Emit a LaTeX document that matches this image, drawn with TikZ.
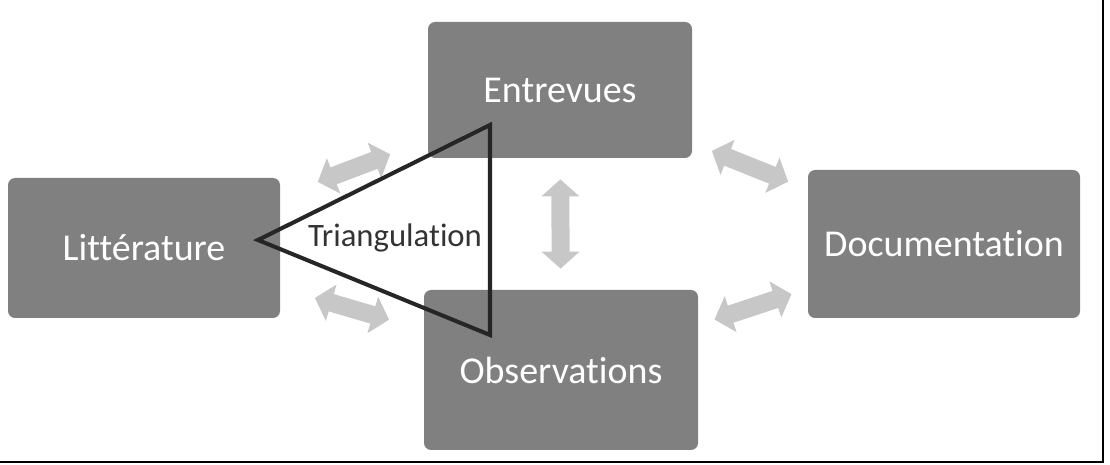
\documentclass[tikz,border=0pt]{standalone}
\usepackage{fontspec}
\setmainfont[Ligatures=NoCommon]{Carlito}
\usepackage{tikz}
\usetikzlibrary{arrows.meta}
\usepackage{xcolor}

\begin{document}
\begin{tikzpicture}[line cap=round,
  box/.style={fill=black!50,rounded corners=4pt,text=white,font=\fontsize{21.6}{24}\selectfont,inner sep=0pt},
  link/.style={draw=black!22,line width=0.36cm,line cap=butt,
    {Triangle[length=0.34cm,width=0.74cm]}-{Triangle[length=0.34cm,width=0.74cm]},
    shorten <=#1,shorten >=#1}]
\useasboundingbox (0,0) rectangle (22.2,9.3);
% the four sources
\node[box,minimum width=5.44cm,minimum height=2.8cm] (lit) at (2.88,4.34) {Littérature};
\node[box,minimum width=5.28cm,minimum height=2.72cm] (ent) at (11.2,7.5) {Entrevues};
\node[box,minimum width=5.48cm,minimum height=3.2cm] (obs) at (11.22,1.9) {Observations};
\node[box,minimum width=5.44cm,minimum height=2.96cm] (doc) at (18.88,4.42) {Documentation};
% links
\draw[link=0.8cm] (lit) -- (ent);
\draw[link=0.72cm] (lit) -- (obs);
\draw[link=0.42cm] (ent) -- (obs);
\draw[link=0.42cm] (ent) -- (doc);
\draw[link=0.34cm] (obs) -- (doc);
% triangle
\draw[line width=2.3pt,line join=miter,black!85] (5.16,4.5) -- (9.8,6.8) -- (9.8,2.6) -- cycle;
\node[text=black!80,font=\fontsize{18.6}{21}\selectfont,inner sep=0pt] (tri) at (7.9,4.54) {Triangulation};
% frame
\draw[line width=0.04cm,line cap=butt] (22.06,9.3) -- (22.06,0.06) -- (0,0.06);
\end{tikzpicture}
\end{document}
